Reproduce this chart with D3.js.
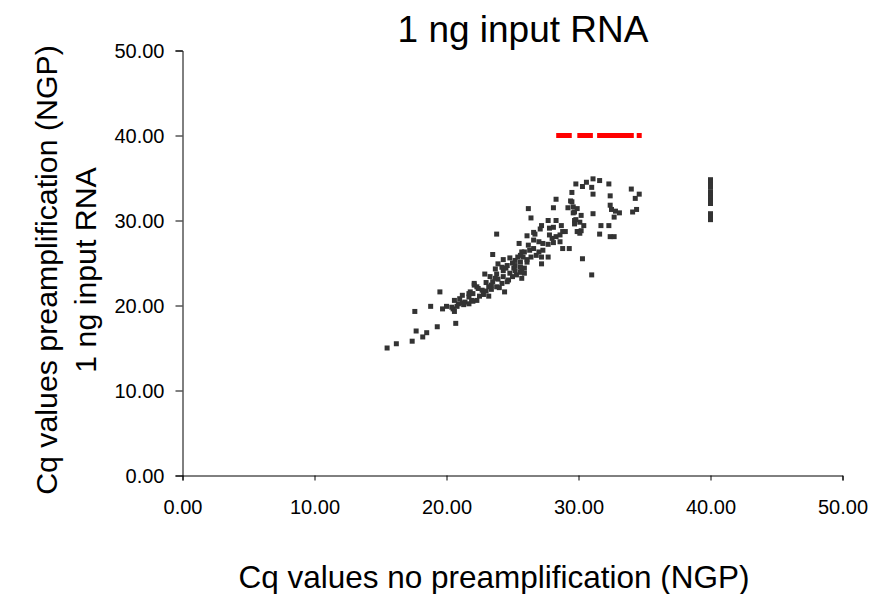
<!DOCTYPE html>
<html><head><meta charset="utf-8">
<script src="https://cdn.jsdelivr.net/npm/d3@7/dist/d3.min.js"></script>
<style>body{margin:0;background:#fff;}svg{display:block;font-family:"Liberation Sans",Arial,sans-serif;}</style>
</head><body>
<script>
const titleText = "1 ng input RNA";
const xTitle = "Cq values no preamplification (NGP)";
const yTitle1 = "Cq values preamplification (NGP)";
const yTitle2 = "1 ng input RNA";
const tickValues = [0, 10, 20, 30, 40, 50];

// detected Cq pairs (x = no preamp, y = preamp)
const ptX = [15.5,16.2,17.4,18.2,18.5,17.7,17.6,19.3,20.7,18.8,19.5,19.7,20.0,20.5,20.6,20.6,21.0,21.2,21.4,21.7,21.9,21.7,22.1,20.4,20.9,21.3,22.0,22.3,21.8,22.0,21.7,22.7,22.8,22.5,23.2,22.1,22.3,22.9,23.3,23.7,23.9,23.5,24.6,23.0,23.4,23.2,23.8,24.2,24.4,24.3,24.3,23.9,23.7,23.5,23.8,25.5,25.7,25.9,25.8,24.8,25.2,24.6,25.1,25.6,24.8,25.2,25.6,25.9,25.7,26.1,25.7,25.9,24.2,25.3,24.3,22.4,23.0,23.4,24.0,24.7,25.0,23.8,24.5,25.2,25.6,25.0,25.4,21.2,20.8,
28.3,29.4,26.2,28.1,29.2,29.6,29.7,29.9,26.4,27.7,28.3,28.7,28.1,27.8,29.7,29.9,30.1,27.2,27.1,26.6,26.7,26.1,27.8,28.0,28.3,28.6,28.8,26.6,27.0,27.3,27.7,28.1,26.2,28.6,28.8,29.3,26.3,26.6,27.0,27.3,26.8,26.4,27.2,26.1,25.6,27.7,27.2,
31.1,31.6,30.6,30.3,29.8,31.0,32.3,34.0,34.6,34.3,29.5,31.1,32.4,29.5,29.6,32.4,32.5,32.8,33.1,32.7,34.1,34.4,31.1,30.2,29.8,29.7,30.4,31.7,32.3,29.0,30.0,30.2,30.1,31.6,32.4,32.7,30.3,31.0];
const ptY = [15.0,15.5,15.8,16.3,16.8,17.0,19.3,17.5,17.9,19.9,21.6,19.6,19.9,19.6,19.3,20.6,20.8,20.3,20.4,20.2,20.6,21.4,22.4,19.8,20.2,20.1,20.5,20.6,21.6,21.4,21.0,21.8,21.3,21.1,21.1,22.6,22.2,23.7,23.4,23.2,23.1,22.8,22.8,22.7,22.4,22.2,22.2,22.6,21.6,24.1,25.4,24.9,24.3,26.0,28.4,27.3,26.3,26.3,25.7,25.6,25.3,24.7,24.4,23.9,23.8,24.7,25.1,24.4,23.2,25.1,24.0,23.8,24.5,23.6,23.4,22.0,21.7,21.9,22.1,23.0,23.4,23.7,24.4,24.1,24.5,25.0,25.7,21.2,19.9,
32.5,32.3,31.4,31.5,31.5,31.6,31.0,31.4,30.3,30.0,30.0,29.4,29.2,29.1,30.0,28.7,29.8,29.4,29.0,28.6,28.4,28.2,28.3,27.9,28.1,28.3,28.7,27.7,27.5,27.3,27.2,27.4,27.1,27.5,26.7,26.7,26.5,26.7,26.3,26.5,25.9,25.7,25.7,25.4,25.9,25.7,24.9,
34.9,34.7,34.5,34.0,34.3,33.9,34.3,33.7,33.1,32.6,33.3,33.1,32.9,32.2,30.9,31.8,31.3,31.1,30.9,30.4,31.0,31.3,30.8,30.6,30.1,29.6,29.4,29.4,29.4,28.7,28.7,28.8,28.5,28.4,28.1,28.1,25.5,23.6];

// not detected without preamplification (Cq set to 40)
const ndX = [40,40,40,40,40,40,40,40,40,40,40,40];
const ndY = [34.8,34.5,34.2,34.0,33.4,33.0,32.7,32.3,32.0,30.8,30.5,30.1];

// not detected after preamplification (Cq set to 40)
const ndpX = [28.5,28.7,28.9,29.1,29.3,30.1,30.3,30.5,30.7,30.9,31.6,31.8,32.0,32.2,32.4,32.6,32.8,33.0,33.2,33.4,33.6,33.8,34.0,34.6];
const ndpY = ndpX.map(() => 40);

const W = 882, H = 594;
const m = {left: 182.5, right: 882 - 842.5, top: 50.5, bottom: 594 - 475.5};
const svg = d3.select("body").append("svg").attr("width", W).attr("height", H);

const x = d3.scaleLinear().domain([0, 50]).range([m.left, W - m.right]);
const y = d3.scaleLinear().domain([0, 50]).range([H - m.bottom, m.top]);

const fmt = d3.format(".2f");
const gx = svg.append("g").attr("transform", `translate(0,${H - m.bottom})`)
  .call(d3.axisBottom(x).tickValues(tickValues).tickFormat(fmt).tickSize(5).tickPadding(19));
const gy = svg.append("g").attr("transform", `translate(${m.left},0)`)
  .call(d3.axisLeft(y).tickValues(tickValues).tickFormat(fmt).tickSize(7).tickPadding(11));
[gx, gy].forEach(g => {
  g.attr("font-size", null).attr("font-family", null);
  g.selectAll("path, line").attr("stroke", "#000").attr("stroke-width", 1);
  g.selectAll("text").style("font-size", "20px").attr("fill", "#000");
});
gy.selectAll("text").attr("dy", "0.36em");

const sz = 5;
function drawPts(xs, ys, color) {
  svg.append("g").selectAll("rect").data(xs.map((v, i) => [v, ys[i]])).join("rect")
    .attr("x", d => x(d[0]) - sz / 2).attr("y", d => y(d[1]) - sz / 2)
    .attr("width", sz).attr("height", sz).attr("fill", color);
}
drawPts(ptX, ptY, "#333333");
drawPts(ndX, ndY, "#333333");
drawPts(ndpX, ndpY, "#ff0000");

svg.append("text").attr("x", 523).attr("y", 42).attr("text-anchor", "middle")
  .style("font-size", "37px").attr("fill", "#000").text(titleText);
svg.append("text").attr("x", 494).attr("y", 588).attr("text-anchor", "middle")
  .style("font-size", "31.5px").attr("fill", "#000").text(xTitle);
const yt = svg.append("text").attr("transform", "translate(0,270) rotate(-90)")
  .attr("text-anchor", "middle").style("font-size", "30.3px").attr("fill", "#000");
yt.append("tspan").attr("x", 0).attr("y", 57).text(yTitle1);
yt.append("tspan").attr("x", 0).attr("y", 96).text(yTitle2);
</script>
</body></html>
